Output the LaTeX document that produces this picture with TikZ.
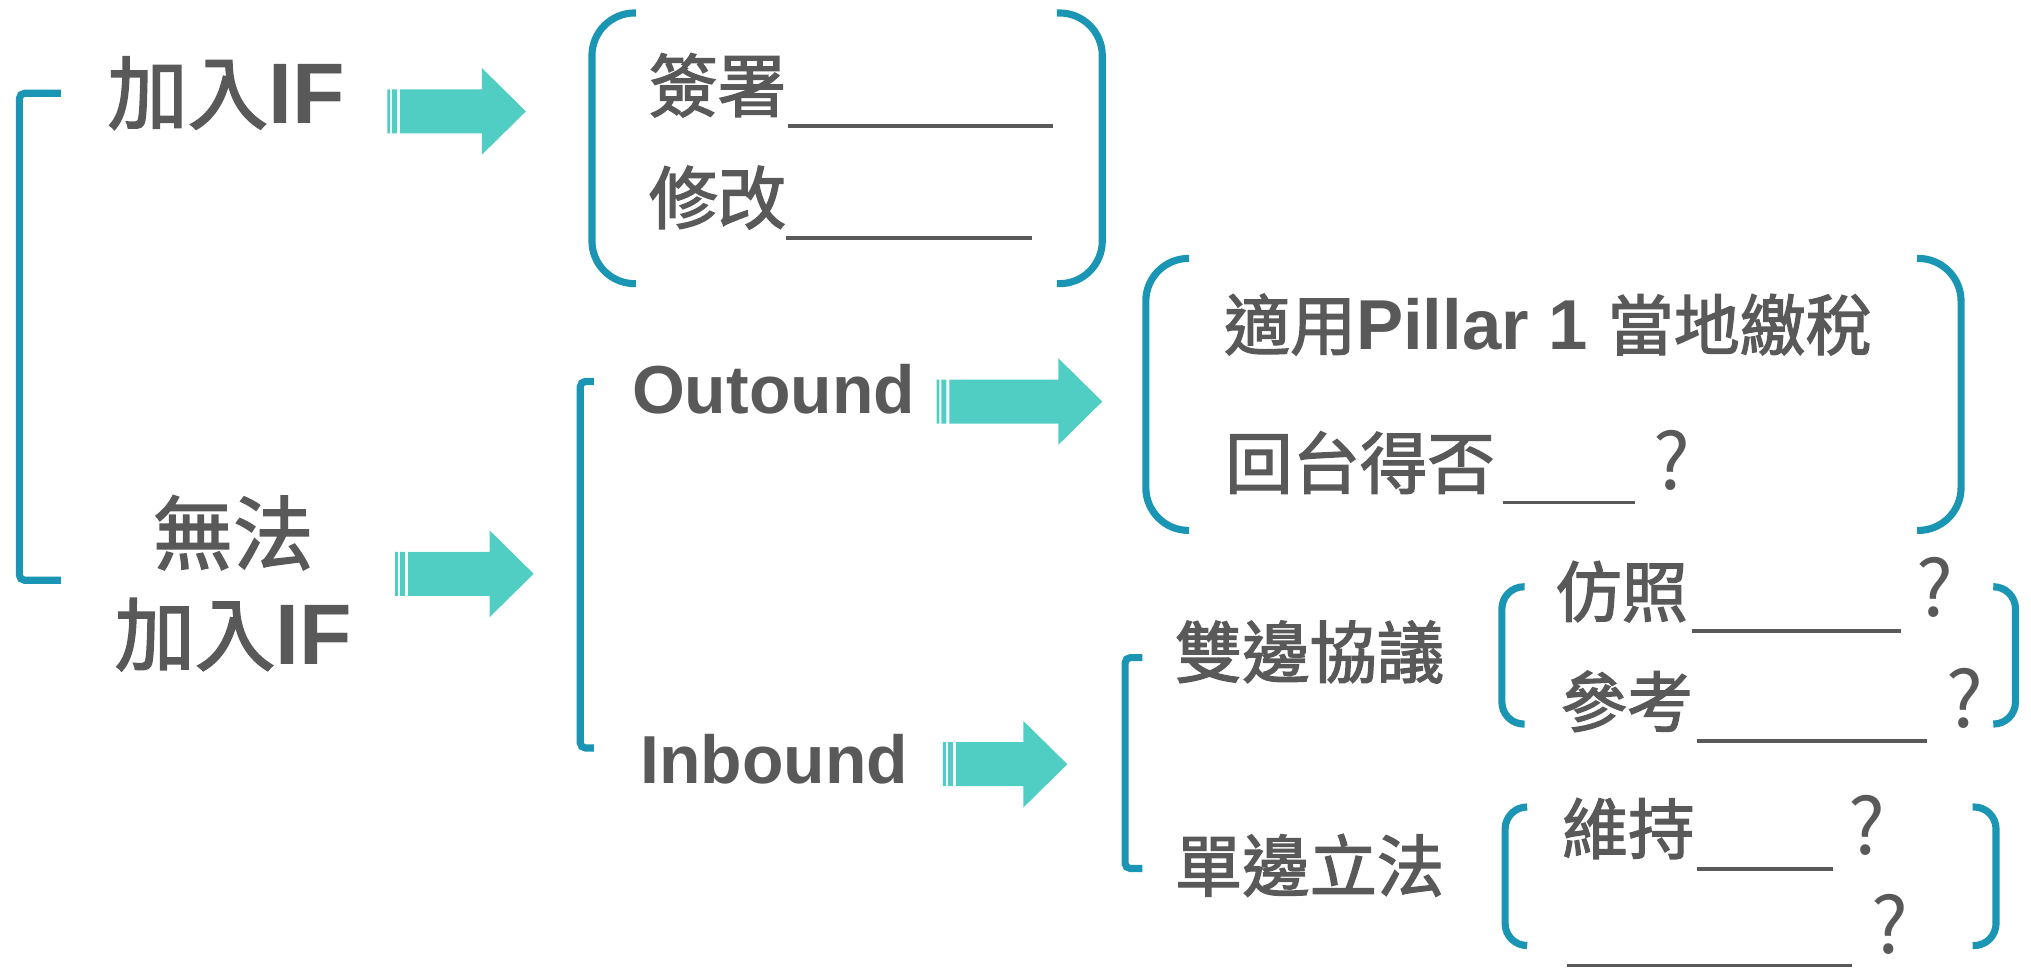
\documentclass[tikz,border=0pt]{standalone}
\usepackage{fontspec}
\setmainfont{Liberation Sans}[Scale=1.07]
\newfontfamily\cjk{Noto Sans CJK TC}[FakeBold=2]
\newfontfamily\cjkq{Noto Sans CJK TC}
\usetikzlibrary{calc}

\definecolor{txt}{HTML}{595959}
\definecolor{brk}{HTML}{1A96B4}
\definecolor{arw}{HTML}{50CEC4}

\newcommand\zh[1]{{\cjk #1}}
\newcommand\en[1]{{\bfseries #1}}

% block arrow with two thin tail stripes, from tail coordinate #1 to tip coordinate #2
\newcommand\fatarrow[2]{%
  \fill[arw] let \p1=(#1), \p2=(#2) in
    (\x1,{\y1-17pt}) rectangle ({\x1+2.2pt},{\y1+17pt})
    ({\x1+3.8pt},{\y1-17pt}) rectangle ({\x1+7.6pt},{\y1+17pt})
    ({\x1+10pt},{\y1-17pt}) -- ({\x2-34pt},{\y1-17pt}) -- ({\x2-34pt},{\y1-33.5pt})
    -- (\x2,\y1) -- ({\x2-34pt},{\y1+33.5pt}) -- ({\x2-34pt},{\y1+17pt})
    -- ({\x1+10pt},{\y1+17pt}) -- cycle;}

\tikzset{
  lbl/.style={anchor=base west, inner sep=0pt, outer sep=0pt, text=txt},
  clbl/.style={lbl, anchor=base},
  big/.style={font=\fontsize{62}{70}\selectfont},
  sz53/.style={font=\fontsize{53}{60}\selectfont},
  sz52/.style={font=\fontsize{52}{60}\selectfont},
  sz51/.style={font=\fontsize{51}{60}\selectfont},
  latin/.style={font=\fontsize{49}{56}\selectfont},
  qmark/.style={anchor=base, inner sep=0pt, text=txt, font=\cjkq\fontsize{60}{64}\selectfont},
  brace/.style={draw=brk, line width=5.5pt},
  square/.style={brace, rounded corners=4pt},
  paren/.style={brace, rounded corners=33pt},
  sparen/.style={brace, rounded corners=17pt},
  blank/.style={draw=txt, line width=2.8pt}
}

\begin{document}
\begin{tikzpicture}[x=1pt,y=-1pt]
\useasboundingbox (0,0) rectangle (1568,747);

% ---- first level ----
\draw[square] (47,72) -- (15,72) -- (15,448) -- (47,448);
\node[lbl,big] (join) at (83,95) {\zh{加入}\en{IF}};
\node[clbl,big] (nojoinA) at (180,435) {\zh{無法}};
\node[clbl,big] (nojoinB) at (180,513) {\zh{加入}\en{IF}};

% ---- joining: sign / amend ----
\coordinate (a1s) at (299,86);
\coordinate (a1e) at (406,86);
\fatarrow{a1s}{a1e}
\draw[paren] (491,10) -- (457,10) -- (457,219) -- (491,219);
\draw[paren] (816,10) -- (851,10) -- (851,219) -- (816,219);
\node[lbl,sz53] (sign) at (501,86) {\zh{簽署}};
\node[lbl,sz53] (amend) at (501,172.6) {\zh{修改}};
\draw[blank] (608,97.3) -- (813,97.3);
\draw[blank] (607,183.5) -- (797,183.5);

% ---- not joining: outbound / inbound ----
\coordinate (a2s) at (305,443);
\coordinate (a2e) at (412,443);
\fatarrow{a2s}{a2e}
\draw[square] (458.5,294.5) -- (448,294.5) -- (448,577.5) -- (458.5,577.5);
\node[lbl,latin] (outbound) at (488,319) {\en{Outound}};
\node[lbl,latin] (inbound) at (494.5,605) {\en{Inbound}};

% ---- outbound branch ----
\coordinate (a3s) at (723,310);
\coordinate (a3e) at (851,310);
\fatarrow{a3s}{a3e}
\draw[paren] (918,199.5) -- (884.6,199.5) -- (884.6,409.5) -- (918,409.5);
\draw[paren] (1480,199.5) -- (1514,199.5) -- (1514,409.5) -- (1480,409.5);
\node[lbl,sz51] (pillar) at (945,270) {\zh{適用}\en{Pillar 1} \zh{當地繳稅}};
\node[lbl,sz52] (back) at (946,377) {\zh{回台得否}};
\draw[blank] (1160,388) -- (1262,388);
\node[qmark] (backq) at (1291,378) {?};

% ---- inbound branch ----
\coordinate (a4s) at (728,590);
\coordinate (a4e) at (824,590);
\fatarrow{a4s}{a4e}
\draw[square] (882,507.7) -- (868.6,507.7) -- (868.6,670.5) -- (882,670.5);
\node[lbl,sz52] (bilat) at (907,523) {\zh{雙邊協議}};
\node[lbl,sz52] (unilat) at (907,688) {\zh{單邊立法}};

% bilateral agreements
\draw[sparen] (1177,453) -- (1159.5,453) -- (1159.5,559) -- (1177,559);
\draw[sparen] (1540,453) -- (1556,453) -- (1556,559) -- (1540,559);
\node[lbl,sz51] (copy) at (1201,476) {\zh{仿照}};
\draw[blank] (1306,487) -- (1468,487);
\node[qmark] (copyq) at (1494,476) {?};
\node[lbl,sz51] (refer) at (1205,561) {\zh{參考}};
\draw[blank] (1310,572) -- (1488,572);
\node[qmark] (referq) at (1517,562) {?};

% unilateral legislation
\draw[sparen] (1179,623) -- (1162,623) -- (1162,730) -- (1179,730);
\draw[sparen] (1523,623) -- (1541,623) -- (1541,730) -- (1523,730);
\node[lbl,sz51] (keep) at (1206,659) {\zh{維持}};
\draw[blank] (1310,671) -- (1415,671);
\node[qmark] (keepq) at (1441,660) {?};
\draw[blank] (1210,745.5) -- (1430,745.5);
\node[qmark] (lastq) at (1459,736) {?};
\end{tikzpicture}
\end{document}
